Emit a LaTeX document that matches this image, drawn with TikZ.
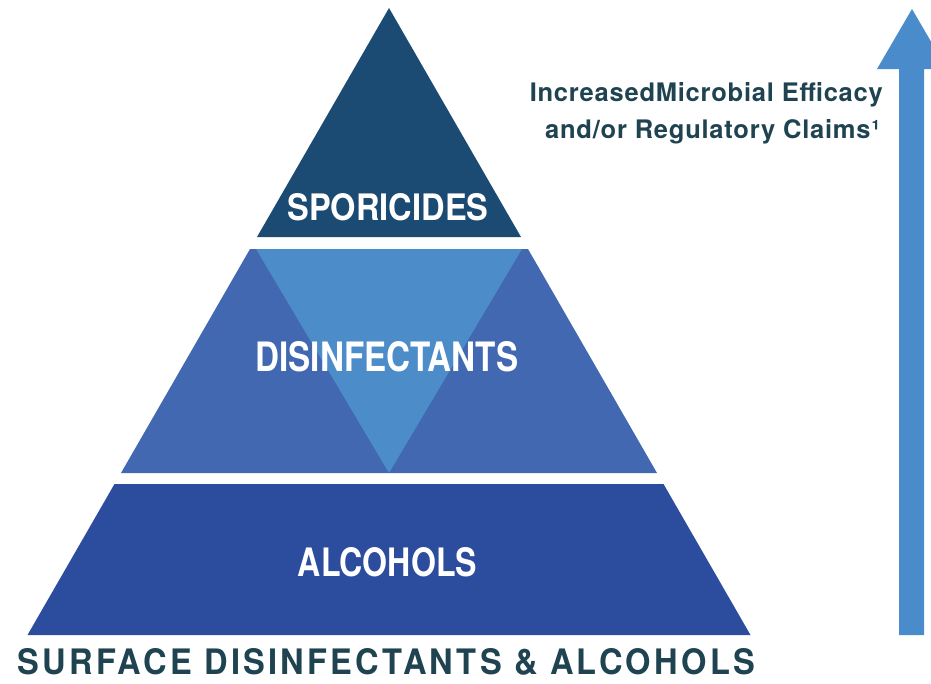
\documentclass[tikz,border=0pt]{standalone}
\usepackage{fontspec}
\setmainfont{TeX Gyre Heros}
\newfontfamily\spacedfont[LetterSpace=10]{TeX Gyre Heros}
\newfontfamily\sidefont[LetterSpace=3]{TeX Gyre Heros}
\usepackage{graphicx}
\definecolor{topcol}{HTML}{1B4A73}
\definecolor{midcol}{HTML}{4168B0}
\definecolor{innercol}{HTML}{4B8CC9}
\definecolor{botcol}{HTML}{2C4C9D}
\definecolor{arrowcol}{HTML}{4A8BCB}
\definecolor{textcol}{HTML}{1F4350}
\begin{document}
\begin{tikzpicture}[x=1pt,y=-1pt,
  tierlabel/.style={text=white,inner sep=0pt,font=\bfseries},
  sidelabel/.style={text=textcol,inner sep=0pt,anchor=base east,font=\sidefont\bfseries\fontsize{25.5}{30}\selectfont},
  baselabel/.style={text=textcol,inner sep=0pt}]
\useasboundingbox (0,0) rectangle (931,683);
\clip (0,0) rectangle (931,683);
% top tier
\fill[topcol] (389,8) -- (521,237) -- (257,237) -- cycle;
% middle tier
\fill[midcol] (250,249) -- (528,249) -- (657,473) -- (121,473) -- cycle;
\fill[innercol] (256,249) -- (522,249) -- (389,473) -- cycle;
% bottom tier
\fill[botcol] (114.5,484) -- (663.5,484) -- (750.5,635) -- (27.5,635) -- cycle;
% arrow
\fill[arrowcol] (899,635) -- (899,69) -- (877,69) -- (912,9) -- (947,69) -- (924,69) -- (924,635) -- cycle;
% labels
\node[tierlabel] (spor) at (388,207) {\resizebox{201pt}{27pt}{SPORICIDES}};
\node[tierlabel] (disinf) at (387,357) {\resizebox{263pt}{30pt}{DISINFECTANTS}};
\node[tierlabel] (alc) at (387.5,562.5) {\resizebox{179pt}{29pt}{ALCOHOLS}};
\node[baselabel] (base) at (386.5,662) {\resizebox{737pt}{26pt}{\spacedfont\bfseries SURFACE DISINFECTANTS \& ALCOHOLS}};
\node[sidelabel] (side1) at (883,101) {IncreasedMicrobial Efficacy};
\node[sidelabel] (side2) at (880,138) {and/or Regulatory Claims¹};
\end{tikzpicture}
\end{document}
